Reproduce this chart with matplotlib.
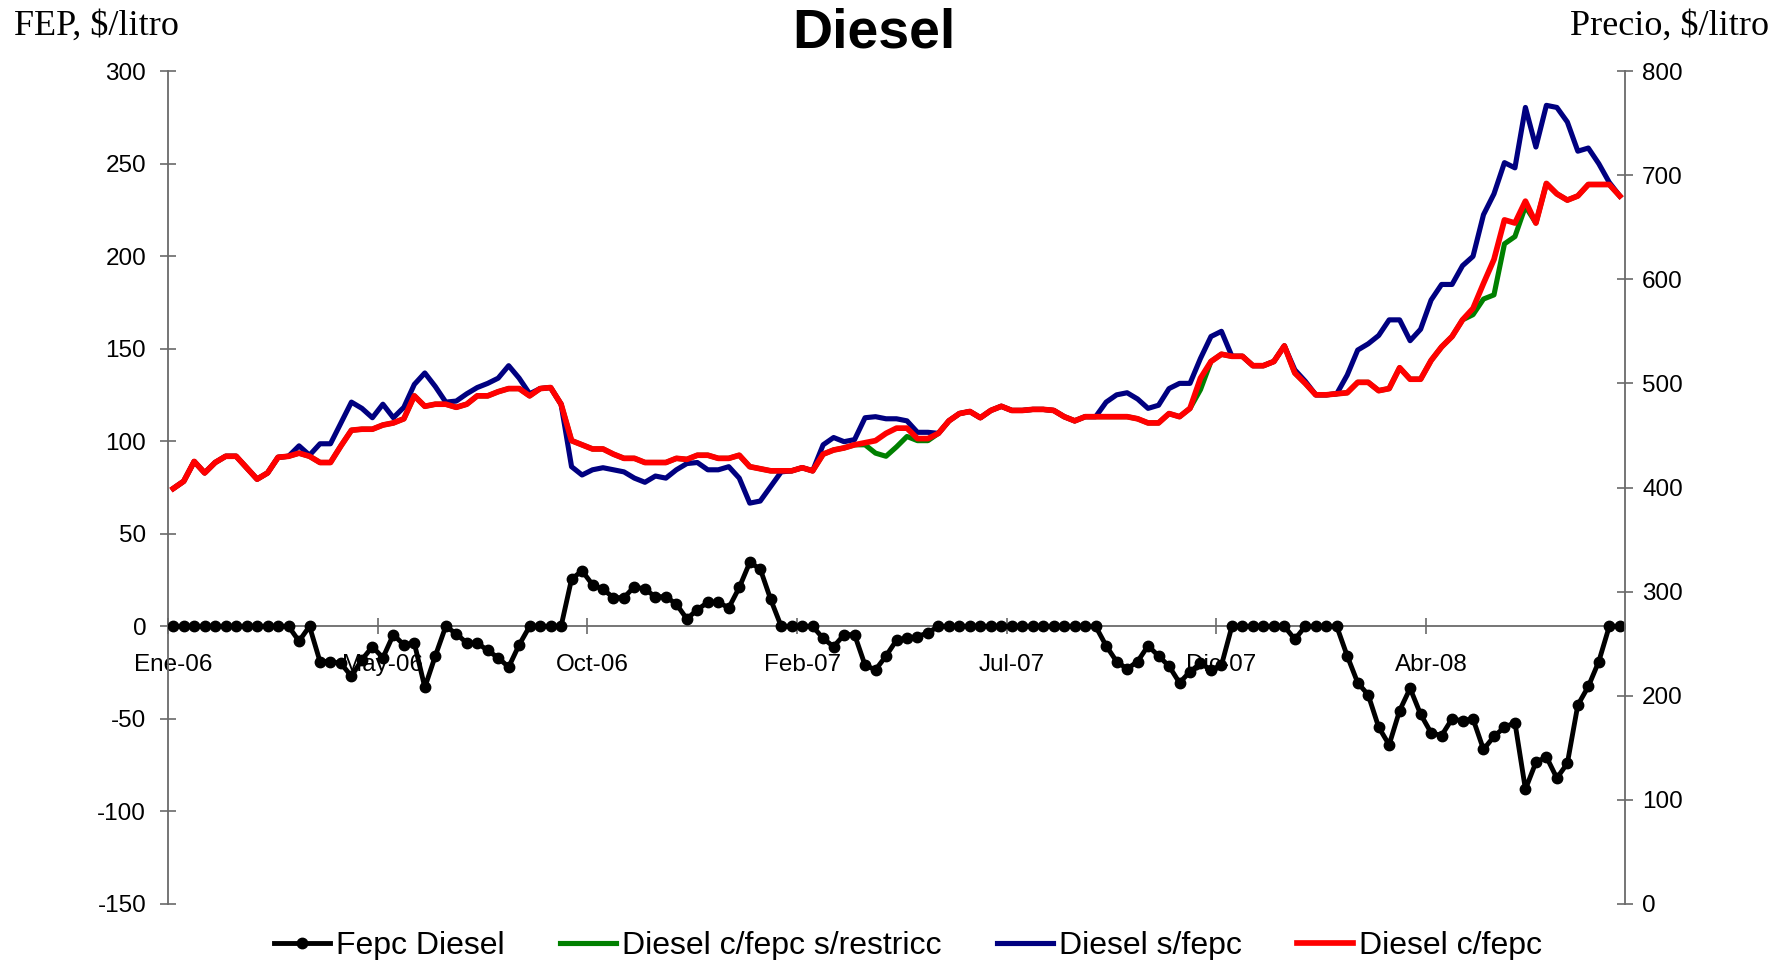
import numpy as np
import matplotlib.pyplot as plt

# datos semanales, Ene-06 .. Jul-08 (139 semanas)
fepc = [0, 0, 0, 0, 0, 0, 0, 0, 0, 0, 0, 0,
        -8, 0, -19, -19, -20, -27, -18, -11, -17, -4.5, -10, -9, -33, -16, 0, -4, -9, -9, -13, -17, -22, -10,
        0, 0, 0, 0, 25.5, 30, 22.5, 20, 15.5, 15.5, 21.5, 20, 16, 16, 12, 4, 9, 13, 13, 10, 21, 34.5, 31, 14.5,
        0, 0, 0, 0, -6.5, -11, -4.5, -4.5, -21, -23.5, -16, -7.5, -6.5, -5.5, -3.5,
        0, 0, 0, 0, 0, 0, 0, 0, 0, 0, 0, 0, 0, 0, 0, 0,
        -10.5, -19, -23, -19, -10.5, -16, -21.5, -30.5, -24.5, -20, -23.5, -21,
        0, 0, 0, 0, 0, 0, -7, 0, 0, 0, 0,
        -16, -30.5, -37, -54.5, -64, -45.5, -33.5, -47.5, -57.5, -59, -50, -51, -50, -66.5, -59.5,
        -54.5, -52, -88, -73.5, -70.5, -82, -74, -42.5, -32.5, -19, 0, 0]

c_fepc = [399, 406, 425, 414, 424, 430, 430, 419, 408, 414,
          429, 430, 433, 430, 424, 424, 440, 455, 456, 456,
          460, 462, 466, 488, 478, 480, 480, 477, 480, 488,
          488, 492, 495, 495, 488, 495, 496, 480, 445, 441,
          437, 437, 432, 428, 428, 424, 424, 424, 428, 427,
          431, 431, 428, 428, 431, 420, 418, 416, 416, 416,
          419, 416, 432, 436, 438, 441, 443, 445, 452, 457,
          457, 447, 447, 452, 464, 471, 473, 467, 474, 478,
          474, 474, 475, 475, 474, 468, 464, 468, 468, 468,
          468, 468, 466, 462, 462, 471, 468, 476, 505, 521,
          528, 526, 526, 517, 517, 521, 536, 510, 500, 489,
          489, 490, 491, 501, 501, 493, 495, 515, 504, 504,
          522, 535, 545, 561, 572, 596, 619, 657, 654, 675,
          654, 692, 682, 676, 680, 691, 691, 691, 680]

s_fepc = [399, 406, 425, 414, 424, 430, 430, 419, 408, 414,
          429, 430, 440, 431, 442, 442, 462, 482, 476, 467,
          480, 467, 477, 499, 510, 497, 482, 483, 490, 496,
          500, 505, 517, 505, 490, 495, 496, 480, 420, 412,
          417, 419, 417, 415, 409, 405, 411, 409, 417, 423,
          424, 417, 417, 420, 409, 385, 387, 401, 415, 416,
          419, 416, 441, 448, 444, 446, 467, 468, 466, 466,
          464, 453, 453, 452, 464, 471, 473, 467, 474, 478,
          474, 474, 475, 475, 474, 468, 464, 468, 468, 482,
          489, 491, 485, 476, 479, 495, 500, 500, 524, 545,
          550, 526, 526, 517, 517, 521, 536, 513, 502, 489,
          489, 490, 508, 532, 538, 546, 561, 561, 541, 552,
          580, 595, 595, 613, 622, 662, 682, 712, 707, 765,
          727, 767, 765, 751, 723, 726, 711, 693, 680]

c_fepc_s_restricc = [399, 406, 425, 414, 424, 430, 430, 419, 408, 414,
                     429, 430, 433, 430, 424, 424, 440, 455, 456, 456,
                     460, 462, 466, 488, 478, 480, 480, 477, 480, 488,
                     488, 492, 495, 495, 488, 495, 496, 480, 445, 441,
                     437, 437, 432, 428, 428, 424, 424, 424, 428, 427,
                     431, 431, 428, 428, 431, 420, 418, 416, 416, 416,
                     419, 416, 432, 436, 438, 441, 441, 433, 430, 439,
                     449, 445, 445, 452, 464, 471, 473, 467, 474, 478,
                     474, 474, 475, 475, 474, 468, 464, 468, 468, 468,
                     468, 468, 466, 462, 462, 471, 468, 476, 494, 521,
                     528, 526, 526, 517, 517, 521, 536, 510, 500, 489,
                     489, 490, 491, 501, 501, 493, 495, 515, 504, 504,
                     522, 535, 545, 561, 566, 581, 585, 634, 641, 670,
                     654, 692, 682, 676, 680, 691, 691, 691, 680]

tick_labels = ['Ene-06', 'May-06', 'Oct-06', 'Feb-07', 'Jul-07', 'Dic-07', 'Abr-08']
label_step = 20

plt.rcParams['font.family'] = 'Liberation Sans'
plt.rcParams['axes.unicode_minus'] = False

gray = '#6a6a6a'
n = len(fepc)
x = np.arange(n) + 0.5

fig = plt.figure(figsize=(17.92, 9.6), dpi=100)
ax = fig.add_axes([168 / 1792, 56 / 960, 1457 / 1792, 833 / 960])
ax2 = ax.twinx()

l1, = ax.plot(x, fepc, color='black', lw=3.5, marker='o', markersize=7.5, zorder=3)
l2, = ax2.plot(x, c_fepc_s_restricc, color='#008000', lw=3.7)
l3, = ax2.plot(x, s_fepc, color='#000080', lw=3.7)
l4, = ax2.plot(x, c_fepc, color='#ff0000', lw=4.1)

ax.set_xlim(0, n)
ax.set_ylim(-150, 300)
ax.set_yticks(np.arange(-150, 301, 50))
ax2.set_ylim(0, 800)
ax2.set_yticks(np.arange(0, 801, 100))

ax.set_xticks(np.arange(0, 121, label_step))
ax.set_xticklabels([])
ax.set_xticks(np.arange(len(tick_labels)) * label_step + 0.5, minor=True)
ax.set_xticklabels(tick_labels, minor=True)

for s in ['top', 'right']:
    ax.spines[s].set_visible(False)
for s in ['top', 'bottom', 'left']:
    ax2.spines[s].set_visible(False)
ax.spines['bottom'].set_position(('data', 0))
for s in [ax.spines['left'], ax.spines['bottom'], ax2.spines['right']]:
    s.set_color(gray)
    s.set_linewidth(1.3)

ax.tick_params(axis='y', direction='inout', length=11.5, width=1.2, color=gray, labelsize=17.5, pad=10)
ax.tick_params(axis='x', which='major', direction='inout', length=11.5, width=1.2, color=gray)
ax.tick_params(axis='x', which='minor', length=0, labelsize=17.5, pad=20)
ax2.tick_params(axis='y', direction='inout', length=11.5, width=1.2, color=gray, labelsize=17.5, pad=6.5)

fig.text(874 / 1792, 1 - 33 / 960, 'Diesel', ha='center', va='center', fontsize=40, fontweight='bold')
fig.text(14 / 1792, 1 - 26 / 960, r'FEP, \$/litro', ha='left', va='center', family='Liberation Serif', fontsize=26)
fig.text(1769 / 1792, 1 - 26 / 960, r'Precio, \$/litro', ha='right', va='center', family='Liberation Serif', fontsize=26)

fig.legend([l1, l2, l3, l4], ['Fepc Diesel', 'Diesel c/fepc s/restricc', 'Diesel s/fepc', 'Diesel c/fepc'],
           loc='center', bbox_to_anchor=(908 / 1792, 1 - 946 / 960), ncol=4, frameon=False,
           fontsize=23, handlelength=1.75, handletextpad=0.2, columnspacing=1.72)

fig.savefig('out.png', dpi=100)
